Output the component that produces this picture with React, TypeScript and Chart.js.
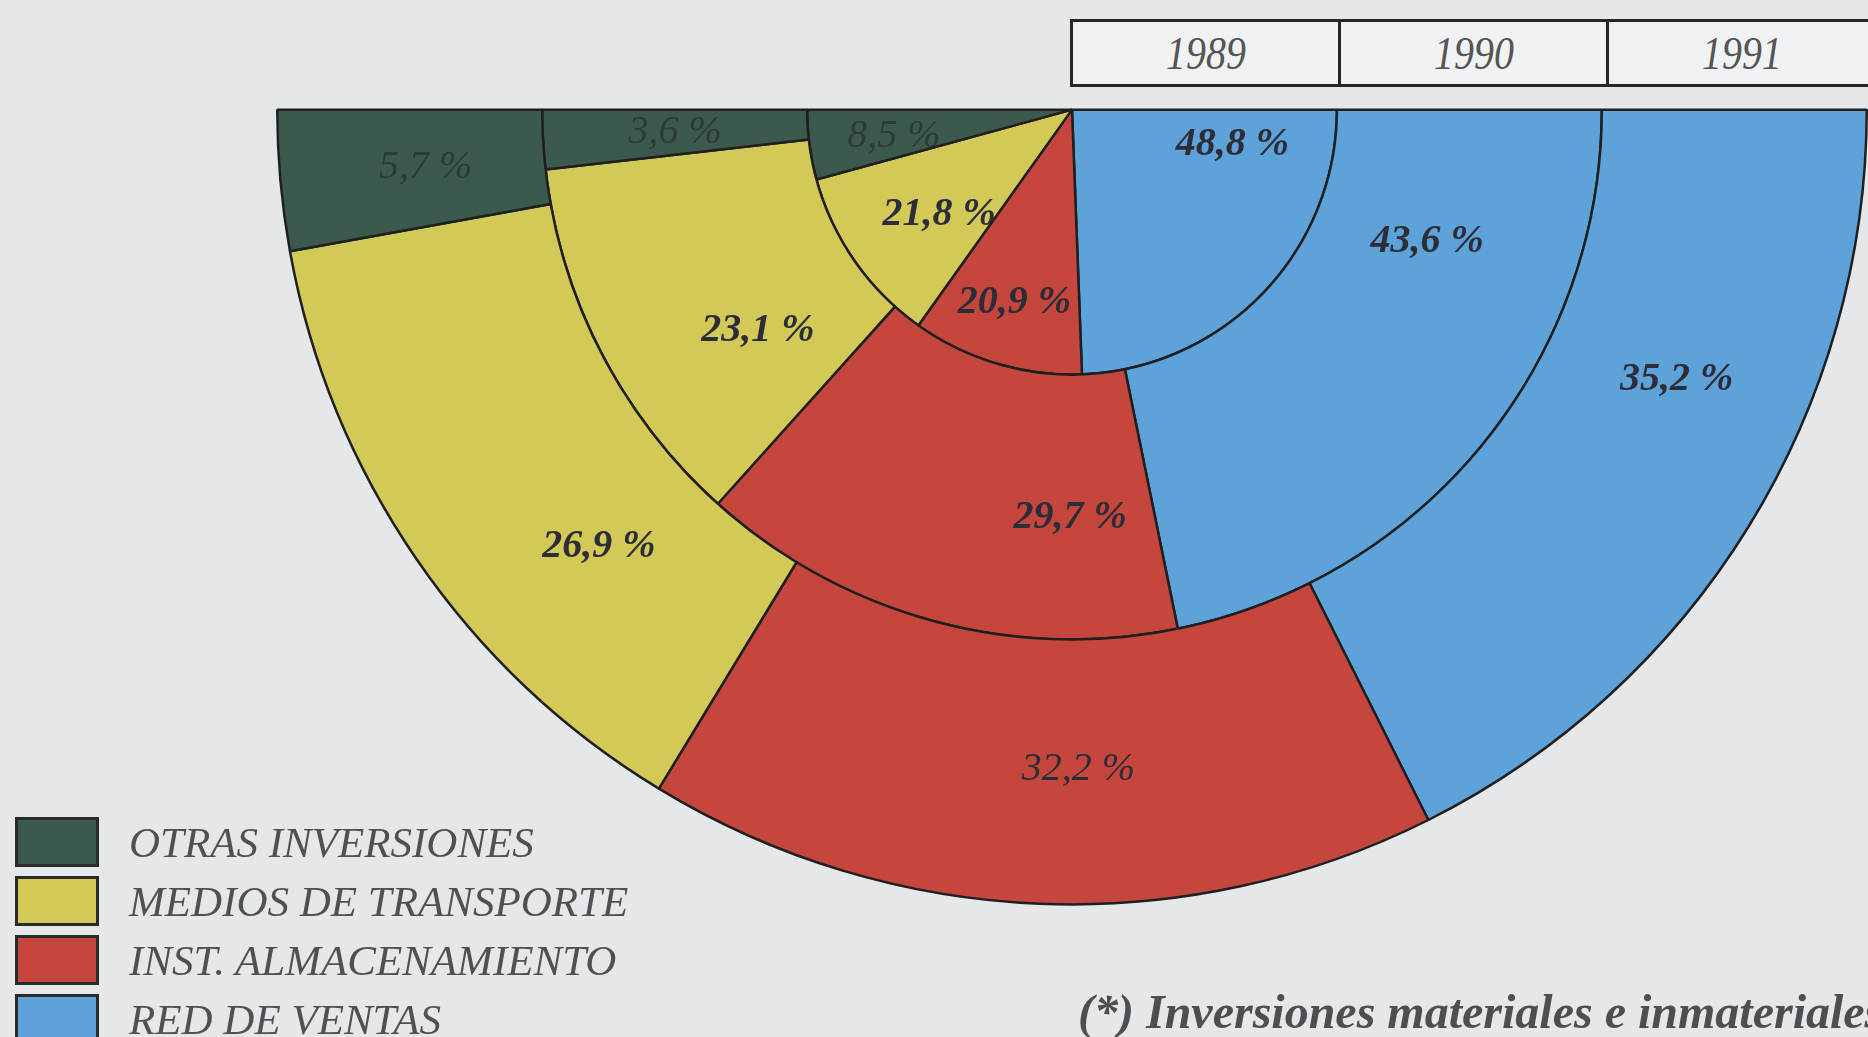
import React, { useEffect, useRef } from "react";
import { Chart, registerables } from "chart.js";

Chart.register(...registerables);

// ---- Data (percent of investments) ----
const categories = ["RED DE VENTAS", "INST. ALMACENAMIENTO", "MEDIOS DE TRANSPORTE", "OTRAS INVERSIONES"];
const years = ["1989", "1990", "1991"];
const values1989 = [48.8, 20.9, 21.8, 8.5];
const values1990 = [43.6, 29.7, 23.1, 3.6];
const values1991 = [35.2, 32.2, 26.9, 5.7];
const footnote = "(*) Inversiones materiales e inmateriales";

// ---- Styles ----
const colors = ["#5ea2da", "#c4463c", "#d3c957", "#3c5a4c"];
const legendOrder = [3, 2, 1, 0];
// label placement inside each arc: fraction along the arc, fraction across the ring
const labelAngle = { "1989": [0.14, 0.5, 0.41, 0.44], "1990": [0.26, 0.22, 0.31, 0.5], "1991": [0.38, 0.45, 0.33, 0.5] };
const labelRadius = { "1989": [0.62, 0.76, 0.64, 0.68], "1990": [0.43, 0.54, 0.45, 0.5], "1991": [0.5, 0.49, 0.43, 0.45] };
const labelBold = { "1989": [true, true, true, false], "1990": [true, true, true, false], "1991": [true, false, true, false] };

const fmt = (v: number) => v.toFixed(1).replace(".", ",") + " %";

const labelPlugin = {
  id: "arcLabels",
  afterDatasetsDraw(chart: any) {
    const ctx = chart.ctx;
    chart.data.datasets.forEach((ds: any, di: number) => {
      const meta = chart.getDatasetMeta(di);
      const yr = ds.label;
      meta.data.forEach((arc: any, i: number) => {
        const p = arc.getProps(["x", "y", "startAngle", "endAngle", "innerRadius", "outerRadius"], true);
        const a = p.startAngle + labelAngle[yr][i] * (p.endAngle - p.startAngle);
        const r = p.innerRadius + labelRadius[yr][i] * (p.outerRadius - p.innerRadius);
        const x = p.x + Math.cos(a) * r;
        const y = p.y + Math.sin(a) * r;
        ctx.save();
        ctx.font = (labelBold[yr][i] ? "italic bold " : "italic ") + '40px "Liberation Serif"';
        ctx.fillStyle = i === 3 ? "rgba(38,44,48,0.7)" : "#2c2d36";
        ctx.textAlign = "center";
        ctx.textBaseline = "middle";
        ctx.fillText(fmt(ds.data[i]), x, y);
        ctx.restore();
      });
    });
  },
};

export default function App() {
  const ref = useRef<HTMLCanvasElement>(null);
  useEffect(() => {
    if (!ref.current) return;
    const chart = new Chart(ref.current, {
      type: "doughnut",
      data: {
        labels: categories,
        datasets: [
          { label: years[2], data: values1991, backgroundColor: colors, borderColor: "#1f1f1f", borderWidth: 2.5 },
          { label: years[1], data: values1990, backgroundColor: colors, borderColor: "#1f1f1f", borderWidth: 2.5 },
          { label: years[0], data: values1989, backgroundColor: colors, borderColor: "#1f1f1f", borderWidth: 2.5 },
        ],
      },
      options: {
        responsive: false,
        animation: false,
        rotation: 90,
        circumference: 180,
        cutout: 0,
        layout: { padding: { left: 276, right: 0, top: 107, bottom: 130 } },
        plugins: { legend: { display: false }, tooltip: { enabled: false } },
      },
      plugins: [labelPlugin],
    });
    return () => chart.destroy();
  }, []);

  const serif = '"Liberation Serif", "Times New Roman", serif';
  return (
    <div style={{ position: "fixed", inset: 0, background: "#e4e8ea", overflow: "hidden", fontFamily: serif }}>
      <canvas ref={ref} width={1868} height={1037} style={{ position: "absolute", left: 0, top: 0, display: "block" }} />
      {/* year header */}
      <div style={{ position: "absolute", left: 1070, top: 19, height: 62, display: "flex", border: "3px solid #262626", background: "#f0f2f3" }}>
        {years.map((y, i) => (
          <div key={y} style={{ width: 265, height: 62, borderLeft: i ? "3px solid #262626" : "none", display: "flex", alignItems: "center", justifyContent: "center", fontStyle: "italic", fontSize: 42, color: "#555" }}>
            <span style={{ display: "inline-block", transform: "scale(0.95, 1.12)" }}>{y}</span>
          </div>
        ))}
      </div>
      {/* legend */}
      {legendOrder.map((ci, k) => (
        <div key={ci} style={{ position: "absolute", left: 15, top: 817 + k * 59, height: 50, display: "flex", alignItems: "center" }}>
          <div style={{ width: 78, height: 44, background: colors[ci], border: "3px solid #2a2a2a" }} />
          <div style={{ marginLeft: 30, fontStyle: "italic", fontSize: 43, color: "#505050", whiteSpace: "nowrap" }}>{categories[ci]}</div>
        </div>
      ))}
      <div style={{ position: "absolute", left: 1078, top: 984, fontStyle: "italic", fontWeight: "bold", fontSize: 48, color: "#4e4e4e", whiteSpace: "nowrap" }}>
        {footnote}
      </div>
    </div>
  );
}
